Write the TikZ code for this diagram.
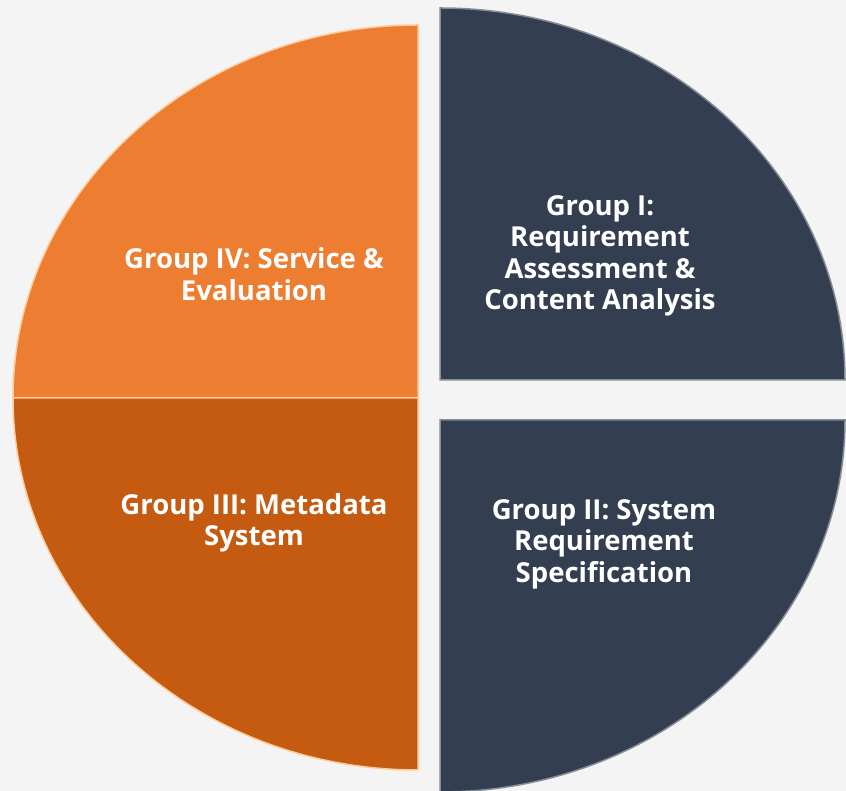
\documentclass[tikz,border=0pt]{standalone}
\usepackage{fontspec}
\setmainfont{Open Sans}
\definecolor{bgpage}{HTML}{F4F4F4}
\definecolor{orangeup}{HTML}{ED7D31}
\definecolor{orangelow}{HTML}{C55A11}
\definecolor{navy}{HTML}{333F50}
\begin{document}
\begin{tikzpicture}[x=1pt, y=1pt,
            label/.style={text=white, font=\bfseries\fontsize{27.5}{31.5}\selectfont, align=center, inner sep=0pt},
            orangerim/.style={draw=orange!40!white, line width=1.5pt},
            navyrim/.style={draw=navy!60!white, line width=1.5pt}
        ]
        \useasboundingbox[fill=bgpage] (0,0) rectangle (846,791);

        % Left half: orange quadrants
        \path[fill=orangeup, orangerim] (418,393) -- (418,766) arc[start angle=90, end angle=180, x radius=405, y radius=373] -- cycle;
        \path[fill=orangelow, orangerim] (418,393) -- (13,393) arc[start angle=180, end angle=270, x radius=405, y radius=372] -- cycle;

        % Right half: navy quadrants
        \path[fill=navy, navyrim] (440,411) -- (440,783) arc[start angle=90, end angle=0, x radius=405, y radius=372] -- cycle;
        \path[fill=navy, navyrim] (440,371) -- (845,371) arc[start angle=0, end angle=-90, x radius=405, y radius=372] -- cycle;

        % Labels
        \node[label] (g4) at (254,517) {Group IV: Service \&\\Evaluation};
        \node[label] (g3) at (254,268) {Group III: Metadata\\System};
        \node[label] (g1) at (600,535) {Group I:\\Requirement\\Assessment \&\\Content Analysis};
        \node[label] (g2) at (604,247) {Group II: System\\Requirement\\Specification};

    \end{tikzpicture}
\end{document}
